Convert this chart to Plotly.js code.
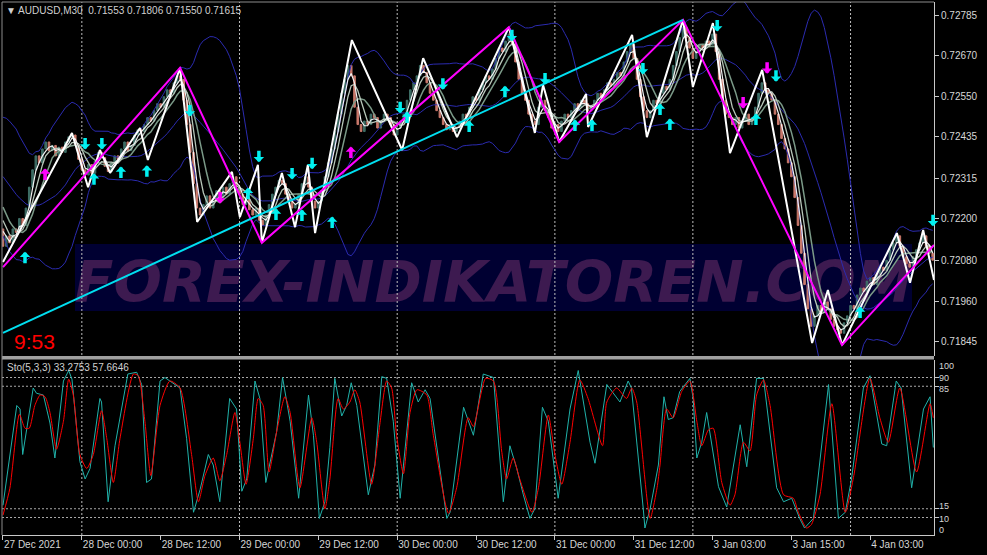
<!DOCTYPE html>
<html><head><meta charset="utf-8">
<script src="https://cdn.plot.ly/plotly-3.0.1.min.js"></script>
<style>html,body{margin:0;padding:0;background:#000;}#chart{width:987px;height:555px;}</style>
</head><body><div id="chart"></div>
<script>
// ---------- DATA (prices in points above 0.70000, i.e. 2120 = 0.72120) ----------
const priorClosesPips = [2420,2410,2430,2400,2390,2410,2380,2370,2390,2360,2340,2350,2320,2300,2310,2280,2250,2230,2200,2170];
const closesPips = [
2120,2150,2130,2170,2160,2200,2180,2230,2290,2340, 2380,2360,2400,2420,2395,2410,2380,2405,2390,2420,
2435,2440,2410,2370,2340,2325,2355,2330,2365,2390, 2375,2350,2335,2360,2380,2370,2400,2420,2395,2410,
2440,2455,2450,2470,2490,2480,2510,2530,2520,2550, 2570,2560,2590,2610,2600,2540,2470,2390,2300,2230,
2210,2240,2265,2230,2250,2280,2260,2290,2270,2300, 2320,2290,2270,2240,2255,2225,2210,2230,2195,2180,
2210,2240,2270,2290,2310,2300,2270,2250,2230,2240, 2270,2300,2320,2290,2250,2230,2250,2280,2320,2360,
2400,2450,2500,2560,2600,2640,2610,2520,2470,2450, 2480,2470,2500,2490,2460,2480,2500,2490,2470,2440,
2460,2480,2500,2540,2570,2590,2610,2640,2620,2590, 2560,2540,2510,2490,2470,2455,2470,2450,2460,2480,
2500,2490,2520,2550,2540,2570,2590,2610,2600,2630, 2660,2690,2680,2710,2730,2700,2650,2600,2560,2540,
2500,2480,2470,2520,2540,2510,2490,2460,2470,2450, 2480,2500,2490,2510,2530,2520,2540,2530,2510,2520,
2540,2560,2550,2570,2590,2580,2600,2620,2610,2650, 2680,2700,2660,2600,2550,2510,2490,2510,2540,2530,
2560,2580,2570,2600,2640,2680,2720,2750,2720,2690, 2660,2680,2700,2690,2710,2700,2730,2680,2600,2540,
2500,2490,2470,2490,2460,2480,2500,2470,2490,2520, 2560,2590,2570,2560,2540,2500,2470,2430,2400,2360,
2320,2260,2180,2100,2010,1940,1890,1920,1950,1930, 1960,1940,1910,1890,1880,1870,1900,1920,1950,1940,
1980,2000,1990,2020,2030,2010,2040,2060,2050,2080, 2110,2130,2150,2120,2090,2070,2060,2090,2110,2130,
2150,2120,2100,2080];

// white zigzag pivots
const zigzagBars   = [0,21,25.9,29.5,32.6,41.7,44.1,53.9,59.1,69.7,72.1,77.6,78.8,84.9,88.9,92.8,95,106.2,121.5,127.9,138.2,154,161.9,164.4,169.3,177.5,178.1,191.5,196,207,210,216.1,221.3,231.1,246.3,251.1,255.4,272.1,276.1,280.1,283.4];
const zigzagPrices = [0.72075,0.72446,0.72290,0.72397,0.72331,0.72460,0.72368,0.72633,0.72190,0.72334,0.72204,0.72354,0.72130,0.72331,0.72175,0.72354,0.72158,0.72713,0.72397,0.72661,0.72434,0.72750,0.72446,0.72584,0.72420,0.72558,0.72463,0.72728,0.72434,0.72771,0.72578,0.72762,0.72388,0.72627,0.71842,0.71994,0.71836,0.72158,0.72015,0.72167,0.72023];
// magenta wave pivots
const waveBars   = [0,53.9,78.8,154,169.3,207,255.4,283.4];
const wavePrices = [0.72060,0.72633,0.72130,0.72750,0.72420,0.72771,0.71836,0.72124];
// cyan trend line
const trendBars   = [0,207];
const trendPrices = [0.71871,0.72771];

// signal arrows
const cyanDownBars   = [25,30.1,56.9,77.9,88,94.1,120.9,133.9,154.9,165,194.8,217.4,235.3,283.1];
const cyanDownPrices = [0.72417,0.72417,0.72512,0.72380,0.72331,0.72360,0.72521,0.72589,0.72728,0.72604,0.72633,0.72756,0.72612,0.72196];
const cyanUpBars   = [6.7,27.7,35.9,43.8,74.6,83.1,91,100.2,123,141.9,152.8,174.1,179.3,200,203,229.2,260.9];
const cyanUpPrices = [0.72086,0.72311,0.72331,0.72334,0.72270,0.72210,0.72207,0.72187,0.72489,0.72463,0.72563,0.72466,0.72466,0.72512,0.72469,0.72483,0.71928];
const magUpBars   = [12.8,105.9];
const magUpPrices = [0.72325,0.72388];
const magDownBars   = [66.1,225.3,232.6];
const magDownPrices = [0.72262,0.72535,0.72635];

// stochastic (5,3,3)
const stochKBars = [0,4.2,5.2,6,9.2,10.2,12.3,14.3,15.8,18.4,20,21,23.4,25,26.5,29.5,30,32,34.1,38,40.7,42.2,43.7,45.2,47.8,49.3,50.8,53.9,55.9,58,60,62.5,64,66,69,71.1,72.7,74.2,76.7,78.2,80,83.3,85.1,87.4,90,93,94.5,96.3,98,99.5,101,103.1,104.6,106,107.7,111.2,113.2,115.3,116.8,118.8,120.9,124.4,126.4,128.5,130,135.1,136.1,140.2,143.2,146.2,149.3,152.3,154.3,156.4,158.4,160.4,161.9,164.2,166,169,172.6,175.1,178.7,180.2,183.8,187.8,190.3,191.3,194.9,195.4,197,199.5,201.2,202.5,204,206,209.1,210.1,211.2,212.7,214.2,215.7,217.8,220.3,224.4,226.4,229.4,231.5,235.5,237.6,240.1,242.5,244,246.7,251.3,254.3,256.4,258.3,261.9,263.9,267.5,269,271.9,273.4,276.6,280.2,282.2,283.2];
const stochKValues = [17,74,72,46,84,81,80,64,44,88,94,89,42,32,38,78,76,19,51,92,93,86,30,32,88,90,88,84,55,13,26,46,40,19,78,72,25,32,88,78,30,59,90,65,21,80,57,9.5,19,50,89.5,68,74,87,74,23,40,90.5,89.5,65,21,87,76,83,78,9.5,13,73,57,92,90,19,51,38,23,9.5,15,73,65,21,72,94,53,41,86,76,88,84,15,4,15,40,79,66,67,82,89.5,78,44,53,70,53,27.6,16,63,39,89.5,89.5,27,19,21,9.5,4,9.5,86,9.5,13,32,84,91,52,51,88,84,27,72,79,50];
const stochDBars = [0,2.1,5,6.7,8,9.7,11.3,12.8,14.3,16.3,18.4,20,21.4,23.4,25.5,27.5,30,31.6,33.6,35.6,39.7,41.2,43.2,45,47.8,50.8,53.9,57.4,59.5,61.5,64,66,68.1,70.6,72.1,74,76.2,77.7,79.2,81,83.3,85.8,87.4,90.4,94,95.5,98,99.5,102,103.6,105.6,107.1,108.6,112.2,114.7,116.8,118.3,119.8,121.9,123.9,126,129,131,135.6,138.1,141.6,143.2,146.9,149.3,151.8,153.3,155.3,157.3,161,163,166,168,170.1,172.6,175.6,178.1,182.5,183.8,186.8,189.8,191.4,192.9,197,199.1,200,202,204,206.6,209.1,211.2,212.7,214.7,216.2,218.8,221.3,222.8,225.4,227.4,229.4,231.5,233.5,237.6,240.6,242.1,244.6,246.1,248.7,252.3,256.4,259,263.9,266.9,269.5,273,278.1,282.2,283.2];
const stochDValues = [11.4,26.7,69,61,61,74,80,79,70,49,65,89,80,46,38,46,71,55,30,55,92,91,65,34,74,88,84,46,19,34,44,31,46,70,53,29,55,78,74,36,59,79,70,27,67,53,15,32,78,72,76,83,76,29,63,88,84,57,35,70,83,80,57,12.4,27,67,62,89.5,88,48,32,44,32,13,27,68.6,46,29,53,88.6,78,51,76,84,78,84,76,9.5,27,40,72,67,82,88,65,51,60,61,30,17,23,53,48,80,88.6,74,23,21,13,4,6,23,75,13,34,89.5,67,53,84,36,75,67];
const stochLevels = [10,15,85,90];
const stochLabelValues = [0,10,15,85,90,100];

// axes
const priceTicks = [0.72785,0.72670,0.72550,0.72435,0.72315,0.72200,0.72080,0.71960,0.71845];
const timeTickBars = [0,24,48,72,96,120,144,168,192,216,240,264];
const timeTickLabels = ['27 Dec 2021','28 Dec 00:00','28 Dec 12:00','29 Dec 00:00','29 Dec 12:00','30 Dec 00:00','30 Dec 12:00','31 Dec 00:00','31 Dec 12:00','3 Jan 03:00','3 Jan 15:00','4 Jan 03:00'];
const daySeparatorBars = [24,72,120,168,210,258];

// ---------- BUILD ----------
const BASE = 0.7, PT = 1e-5;
const allC = priorClosesPips.concat(closesPips).map(v => BASE + v * PT);
const off = priorClosesPips.length;
const bars = closesPips.map((_, i) => i);
const open = bars.map(i => allC[off + i - 1]);
const close = bars.map(i => allC[off + i]);
const high = bars.map(i => Math.max(open[i], close[i]));
const low = bars.map(i => Math.min(open[i], close[i]));
function sma(n){ return bars.map(i => { let s = 0; for (let k = 0; k < n; k++) s += allC[off + i - k]; return s / n; }); }
const mid20 = sma(20);
const sd20 = bars.map(i => { let s = 0; for (let k = 0; k < 20; k++) { const d = allC[off + i - k] - mid20[i]; s += d * d; } return Math.sqrt(s / 20); });
const bbUp = bars.map(i => mid20[i] + 2 * sd20[i]);
const bbLo = bars.map(i => mid20[i] - 2 * sd20[i]);
const maFast = sma(3), maMid = sma(5), maSlow = sma(8);

const FONT = 'Liberation Sans, Arial, sans-serif';
function ln(y, color, width){ return {x: bars, y: y, type:'scatter', mode:'lines', xaxis:'x', yaxis:'y', line:{color:color, width:width}, hoverinfo:'skip'}; }

const traces = [
  {type:'candlestick', x:bars, open:open, high:high, low:low, close:close, xaxis:'x', yaxis:'y',
   increasing:{line:{color:'#3f7068', width:1}, fillcolor:'#3a665f'},
   decreasing:{line:{color:'#c9786b', width:1}, fillcolor:'#c9786b'},
   whiskerwidth:0, hoverinfo:'skip'},
  ln(bbUp, '#2b2bb0', 1), ln(mid20, '#2b2bb0', 1), ln(bbLo, '#2b2bb0', 1),
  ln(maSlow, '#7b9a88', 1.5), ln(maMid, '#b7c6b9', 1.3), ln(maFast, '#f2f2f2', 1.2),
  {x:zigzagBars, y:zigzagPrices, type:'scatter', mode:'lines', xaxis:'x', yaxis:'y', line:{color:'#ffffff', width:2}, hoverinfo:'skip'},
  {x:waveBars, y:wavePrices, type:'scatter', mode:'lines', xaxis:'x', yaxis:'y', line:{color:'#ff00ff', width:2}, hoverinfo:'skip'},
  {x:trendBars, y:trendPrices, type:'scatter', mode:'lines', xaxis:'x', yaxis:'y', line:{color:'#00dff0', width:2}, hoverinfo:'skip'},
  {x:stochKBars, y:stochKValues, type:'scatter', mode:'lines', xaxis:'x', yaxis:'y2', line:{color:'#20b2aa', width:1}, hoverinfo:'skip'},
  {x:stochDBars, y:stochDValues, type:'scatter', mode:'lines', xaxis:'x', yaxis:'y2', line:{color:'#ff0000', width:1, shape:'spline', smoothing:0.6}, hoverinfo:'skip'}
];

// geometry (pixels): plot area x 2..934, y 2..535
const H = 533;
const mainDomain = [(535 - 356) / H, 1];
const stochDomain = [0, (535 - 360) / H];

const annotations = [];
function arrows(bx, py, color, up){
  bx.forEach((b, i) => annotations.push({x:b, y:py[i], xref:'x', yref:'y', text:'', showarrow:true,
    arrowhead:1, arrowsize:0.5, arrowwidth:3.5, arrowcolor:color, ax:0, ay: up ? 13 : -13, yshift: up ? 6.5 : -6.5}));
}
arrows(cyanDownBars, cyanDownPrices, '#00f0f0', false);
arrows(cyanUpBars, cyanUpPrices, '#00f0f0', true);
arrows(magUpBars, magUpPrices, '#ff00ff', true);
arrows(magDownBars, magDownPrices, '#ff00ff', false);

annotations.push({xref:'paper', yref:'paper', x:(12 - 2) / 932, y:(535 - 341) / H, xanchor:'left', yanchor:'middle', showarrow:false,
  text:'9:53', font:{family:FONT, size:21, color:'#ff0000'}});
annotations.push({xref:'paper', yref:'paper', x:(5 - 2) / 932, y:(535 - 367.5) / H, xanchor:'left', yanchor:'middle', showarrow:false,
  text:'Sto(5,3,3) 33.2753 57.6646', font:{family:FONT, size:10, color:'#d0d0d0'}});
// stochastic scale labels (nudged apart so neighbours do not collide)
const stochLabelShift = {0:5, 10:-1, 15:3, 85:-3, 90:0, 100:-6};
stochLabelValues.forEach(v => annotations.push({xref:'paper', yref:'y2', x:1, y:v, xanchor:'left', yanchor:'middle',
  xshift:4, yshift:stochLabelShift[v], showarrow:false, borderpad:0, text:String(v), font:{family:FONT, size:9, color:'#d6d6d6'}}));

const shapes = [];
shapes.push({type:'rect', xref:'paper', yref:'paper', layer:'below',
  x0:(75 - 2) / 932, x1:(912 - 2) / 932, y0:(535 - 311) / H, y1:(535 - 244) / H,
  fillcolor:'#000032', line:{width:0},
  label:{text:'FOREX-INDIKATOREN.COM', textposition:'middle center',
    font:{family:'DejaVu Sans, sans-serif', size:57, color:'#3d1a50', weight:'bold', style:'italic'}}});
daySeparatorBars.forEach(b => shapes.push({type:'line', xref:'x', yref:'paper', x0:b, x1:b, y0:0, y1:1, layer:'below',
  line:{color:'#bdbdbd', width:1, dash:'2px,2px'}}));
stochLevels.forEach(v => shapes.push({type:'line', xref:'paper', yref:'y2', x0:0, x1:1, y0:v, y1:v, layer:'below',
  line:{color:'#a8a8a8', width:1, dash:'2px,2px'}}));
// panel separator & frame
shapes.push({type:'rect', xref:'paper', yref:'paper', x0:0, x1:1, y0:(535 - 359.5) / H, y1:(535 - 356) / H, layer:'above',
  fillcolor:'#a0a0a0', line:{width:0}});
shapes.push({type:'line', xref:'paper', yref:'paper', x0:0, x1:1, y0:1, y1:1, layer:'above', line:{color:'#8c8c8c', width:1}});
shapes.push({type:'line', xref:'paper', yref:'paper', x0:0, x1:0, y0:0, y1:1, layer:'above', line:{color:'#8c8c8c', width:1}});

const tickFont = {family:FONT, size:10, color:'#d6d6d6'};
const layout = {
  width:987, height:555,
  margin:{l:2, r:53, t:2, b:20, pad:0},
  paper_bgcolor:'#000000', plot_bgcolor:'rgba(0,0,0,0)',
  showlegend:false,
  title:{text:'▼ AUDUSD,M30  0.71553 0.71806 0.71550 0.71615', xref:'container', yref:'container',
    x:6 / 987, xanchor:'left', y:1 - 10 / 555, yanchor:'middle', font:{family:FONT, size:10, color:'#d0d0d0'}},
  xaxis:{domain:[0,1], anchor:'y2', range:[-0.3, 283.4], tickvals:timeTickBars, ticktext:timeTickLabels,
    ticks:'outside', ticklen:4, tickcolor:'#c8c8c8', ticklabelposition:'outside right', tickfont:tickFont,
    showgrid:false, zeroline:false, showline:true, linecolor:'#c8c8c8', linewidth:1,
    rangeslider:{visible:false}, fixedrange:true},
  yaxis:{domain:mainDomain, anchor:'x', side:'right', range:[0.718046, 0.728224],
    tickvals:priceTicks, ticktext:priceTicks.map(v => v.toFixed(5)),
    ticks:'outside', ticklen:4, tickcolor:'#c8c8c8', tickfont:tickFont,
    showgrid:false, zeroline:false, showline:true, linecolor:'#c8c8c8', linewidth:1, fixedrange:true},
  yaxis2:{domain:stochDomain, anchor:'x', side:'right', range:[0, 100],
    tickvals:stochLevels, showticklabels:false,
    ticks:'outside', ticklen:4, tickcolor:'#c8c8c8',
    showgrid:false, zeroline:false, showline:true, linecolor:'#c8c8c8', linewidth:1, fixedrange:true},
  shapes:shapes,
  annotations:annotations
};

Plotly.newPlot('chart', traces, layout, {displayModeBar:false, staticPlot:true});
</script>
</body></html>
